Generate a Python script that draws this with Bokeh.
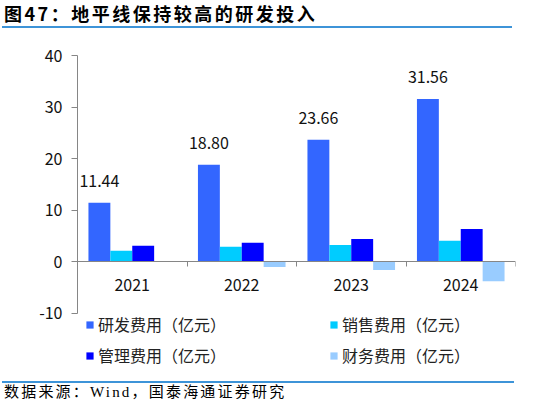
from bokeh.plotting import figure
from bokeh.models import ColumnDataSource, FixedTicker, Legend, LegendItem, Div
from bokeh.layouts import column
from bokeh.transform import dodge
from bokeh.core.properties import value
from bokeh.embed import file_html
from bokeh.resources import INLINE

# data
years = ["2021", "2022", "2023", "2024"]
rd_cost = [11.44, 18.80, 23.66, 31.56]      # 研发费用
sales_cost = [2.14, 2.91, 3.24, 4.08]       # 销售费用
admin_cost = [3.11, 3.69, 4.40, 6.34]       # 管理费用
fin_cost = [-0.08, -1.04, -1.62, -3.82]     # 财务费用
y_ticks = [-10, 0, 10, 20, 30, 40]

FONT = "Noto Sans CJK SC"
AXIS_GREY = "#868686"

pos = [i + 0.5 for i in range(len(years))]
src = ColumnDataSource(data=dict(
    x=pos, rd=rd_cost, sales=sales_cost, admin=admin_cost, fin=fin_cost,
    rd_label=["%.2f" % v for v in rd_cost],
))

# the frame runs below -10 so that the legend can sit inside it
p = figure(width=522, height=345, x_range=(0, len(years)), y_range=(-21.5, 40),
           output_backend="svg", toolbar_location=None, tools="",
           min_border_left=77, min_border_right=7, min_border_top=23, min_border_bottom=5)
p.outline_line_color = None
p.grid.visible = False

series = [
    ("rd", "研发费用（亿元）", "#3366FF", -0.3),
    ("sales", "销售费用（亿元）", "#00CCFF", -0.1),
    ("admin", "管理费用（亿元）", "#0000FF", 0.1),
    ("fin", "财务费用（亿元）", "#99CCFF", 0.3),
]
renderers = {}
for key, name, color, off in series:
    renderers[key] = p.vbar(x=dodge("x", off, range=p.x_range), top=key, bottom=0, width=0.2,
                            source=src, fill_color=color, line_color=None)

# value labels on R&D bars
p.text(x=dodge("x", -0.3, range=p.x_range), y="rd", text="rd_label", source=src,
       text_align="center", text_baseline="bottom", y_offset=-16,
       text_font=value(FONT), text_font_size="16px", text_color="#111111")

# x axis sits on zero, ticks between the years
xa = p.xaxis[0]
xa.fixed_location = 0
xa.ticker = FixedTicker(ticks=pos, minor_ticks=list(range(len(years) + 1)))
xa.major_label_overrides = {x: y for x, y in zip(pos, years)}
xa.major_tick_line_color = None
xa.major_tick_out = 0
xa.major_tick_in = 0
xa.minor_tick_out = 5
xa.minor_tick_in = 0
xa.minor_tick_line_color = AXIS_GREY
xa.axis_line_color = AXIS_GREY
xa.major_label_standoff = 12
xa.major_label_text_font = FONT
xa.major_label_text_font_size = "16px"
xa.major_label_text_color = "#111111"

ya = p.yaxis[0]
ya.ticker = FixedTicker(ticks=y_ticks)
ya.bounds = (-10, 40)
ya.major_label_overrides = {t: str(t) for t in y_ticks}
ya.major_tick_out = 6
ya.major_tick_in = 0
ya.minor_tick_line_color = None
ya.major_tick_line_color = AXIS_GREY
ya.axis_line_color = AXIS_GREY
ya.major_label_standoff = 9
ya.major_label_text_font = FONT
ya.major_label_text_font_size = "16px"
ya.major_label_text_color = "#111111"

# legend fills column by column: left column R&D / admin, right column sales / finance
legend_order = ["rd", "admin", "sales", "fin"]
names = {key: name for key, name, _, _ in series}
legend = Legend(items=[LegendItem(label=names[k], renderers=[renderers[k]]) for k in legend_order],
                ncols=2, location=(8, 5), glyph_width=9, glyph_height=9,
                label_height=20, label_width=224, label_standoff=4, spacing=7,
                padding=0, margin=0, border_line_color=None, background_fill_alpha=0,
                label_text_font=FONT, label_text_font_size="16px", label_text_color="#222222")
p.add_layout(legend)

title = Div(width=522, height=22, text=(
    '<div style="font-family:\'Noto Sans CJK SC\';font-weight:bold;font-size:18px;'
    'letter-spacing:2.5px;line-height:16px;padding:0 0 5px 2px;margin-left:-3px;width:510px;'
    'border-bottom:2px solid #3D94D8;color:#000">图47：地平线保持较高的研发投入</div>'))

source_note = Div(width=522, height=22, text=(
    '<div style="margin-top:-1px;margin-left:-3px;width:512px;border-top:2px solid #3D94D8;'
    'padding-left:2px;font-family:\'Liberation Serif\',\'Noto Sans CJK SC\';font-size:15px;'
    'letter-spacing:2.2px;line-height:18px;color:#000">数据来源：Wind，国泰海通证券研究</div>'))

layout = column(title, p, source_note, spacing=0)
open("out.html", "w").write(file_html(layout, INLINE))
